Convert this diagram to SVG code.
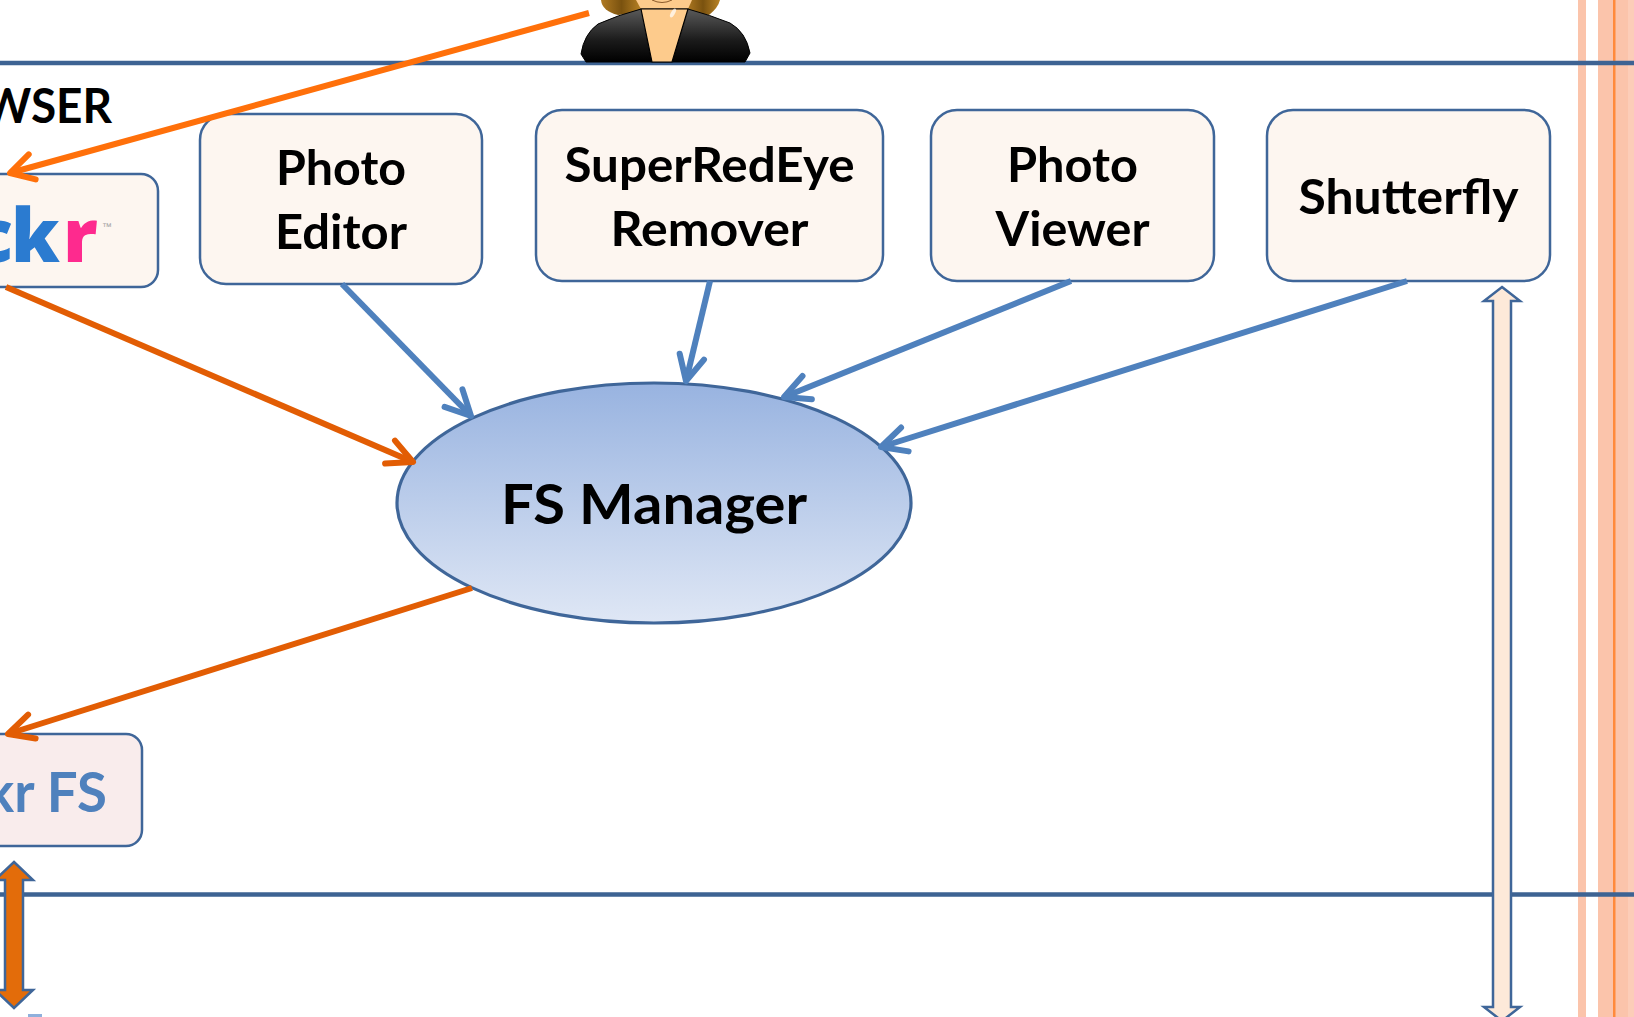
<svg xmlns="http://www.w3.org/2000/svg" width="1634" height="1017" viewBox="0 0 1634 1017">
  <defs>
    <style>
      .box { fill: #fdf6f0; stroke: #3f6699; stroke-width: 2.5; }
      .label { font-family: "Lato", "Liberation Sans", sans-serif; font-weight: 700; font-size: 48px; fill: #000; text-anchor: middle; }
      .tier { stroke: #3d6393; stroke-width: 4.5; fill: none; }
      .link-blue { stroke: #4f81bd; stroke-width: 6; fill: none; marker-end: url(#head-blue); }
      .link-orange { stroke: #e25d04; stroke-width: 6; fill: none; marker-end: url(#head-orange); }
      .link-user { stroke: #ff700a; stroke-width: 6; fill: none; marker-end: url(#head-user); }
      .dbl { stroke: #3f6699; stroke-width: 2.5; stroke-linejoin: miter; }
      .stripe { fill: #fbc4ab; }
    </style>
    <marker id="head-blue" markerUnits="userSpaceOnUse" viewBox="-32 -18 36 36" refX="0" refY="0" markerWidth="36" markerHeight="36" orient="auto" overflow="visible">
      <path d="M-25,-12.5 L0,0 L-25,12.5" fill="none" stroke="#4f81bd" stroke-width="6" stroke-linecap="round" stroke-linejoin="round"/>
    </marker>
    <marker id="head-orange" markerUnits="userSpaceOnUse" viewBox="-32 -18 36 36" refX="0" refY="0" markerWidth="36" markerHeight="36" orient="auto" overflow="visible">
      <path d="M-25,-12.5 L0,0 L-25,12.5" fill="none" stroke="#e25d04" stroke-width="6" stroke-linecap="round" stroke-linejoin="round"/>
    </marker>
    <marker id="head-user" markerUnits="userSpaceOnUse" viewBox="-32 -18 36 36" refX="0" refY="0" markerWidth="36" markerHeight="36" orient="auto" overflow="visible">
      <path d="M-23,-13 L0,0 L-23,13" fill="none" stroke="#ff700a" stroke-width="6" stroke-linecap="round" stroke-linejoin="round"/>
    </marker>
    <linearGradient id="fsm-fill" x1="0" y1="0" x2="0" y2="1">
      <stop offset="0" stop-color="#98b3e0"/>
      <stop offset="1" stop-color="#dfe7f5"/>
    </linearGradient>
    <linearGradient id="jacket" x1="0" y1="0" x2="0" y2="1">
      <stop offset="0" stop-color="#5a5a5a"/>
      <stop offset="0.6" stop-color="#1a1a1a"/>
      <stop offset="1" stop-color="#000"/>
    </linearGradient>
    <linearGradient id="hair" x1="0" y1="0" x2="1" y2="0">
      <stop offset="0" stop-color="#b07a22"/>
      <stop offset="0.5" stop-color="#7a520f"/>
      <stop offset="1" stop-color="#b98325"/>
    </linearGradient>
  </defs>

  <rect width="1634" height="1017" fill="#fff"/>

  <!-- margin stripes on the right -->
  <g id="margin">
    <rect class="stripe" x="1578" y="0" width="8" height="1017"/>
    <rect class="stripe" x="1598" y="0" width="36" height="1017"/>
    <rect x="1613" y="0" width="2.5" height="1017" fill="#ff8a3c"/>
    <rect x="1628" y="0" width="6" height="1017" fill="#fccdb8"/>
  </g>

  <!-- tier separators -->
  <g id="tiers">
    <line class="tier" x1="0" y1="63" x2="1634" y2="63"/>
    <line class="tier" x1="0" y1="894.5" x2="1634" y2="894.5"/>
  </g>

  <!-- user figure -->
  <g id="user">
    <path d="M601,0 Q602,11 618,15 L642,12 L642,0 Z" fill="url(#hair)"/>
    <path d="M686,0 L686,12 L709,15 Q718,8 720,0 Z" fill="url(#hair)"/>
    <path d="M636,0 L692,0 L688,9 L641,9 Z" fill="#fdcb8c"/>
    <path d="M652,0 Q662,5 672,0" fill="none" stroke="#8a5a2a" stroke-width="1"/>
    <path d="M586,62 L581,54 Q584,34 598,24 Q618,15 641,9 L688,9 Q710,15 730,23 Q746,32 750,53 L745,62 Z" fill="url(#jacket)" stroke="#000" stroke-width="1"/>
    <path d="M641,9 L652,62 L672,62 L688,9 Z" fill="#fdcb8c" stroke="#000" stroke-width="1.2"/>
    <ellipse cx="673" cy="13" rx="2" ry="5" transform="rotate(30 673 13)" fill="#fff" opacity="0.7"/>
  </g>

  <!-- browser tier label -->
  <text id="tier-browser" class="label" x="112" y="123" font-size="47" textLength="129" lengthAdjust="spacingAndGlyphs" style="text-anchor:end">WSER</text>

  <!-- nodes -->
  <g id="flickr">
    <rect class="box" x="-30" y="174" width="188" height="113" rx="17"/>
    <text x="0" y="262" font-family="'Open Sans', 'Liberation Sans', sans-serif" font-weight="800" font-size="74">
      <tspan x="-27 11" fill="#2b7bd0">ck</tspan><tspan x="63" fill="#fe2a8e">r</tspan>
    </text>
    <text x="102" y="230" font-family="'Liberation Sans', sans-serif" font-size="10" fill="#a0a0a0">™</text>
  </g>

  <g id="photo-editor">
    <rect class="box" x="200" y="114" width="282" height="170" rx="26"/>
    <text class="label" x="341" y="185" textLength="130" lengthAdjust="spacingAndGlyphs">Photo</text>
    <text class="label" x="341" y="249" textLength="132" lengthAdjust="spacingAndGlyphs">Editor</text>
  </g>

  <g id="superredeye">
    <rect class="box" x="536" y="110" width="347" height="171" rx="26"/>
    <text class="label" x="709.5" y="182" textLength="290" lengthAdjust="spacingAndGlyphs">SuperRedEye</text>
    <text class="label" x="709.5" y="246" textLength="198" lengthAdjust="spacingAndGlyphs">Remover</text>
  </g>

  <g id="photo-viewer">
    <rect class="box" x="931" y="110" width="283" height="171" rx="26"/>
    <text class="label" x="1072.5" y="182" textLength="131" lengthAdjust="spacingAndGlyphs">Photo</text>
    <text class="label" x="1072.5" y="246" textLength="154" lengthAdjust="spacingAndGlyphs">Viewer</text>
  </g>

  <g id="shutterfly">
    <rect class="box" x="1267" y="110" width="283" height="171" rx="26"/>
    <text class="label" x="1408.5" y="214" textLength="220" lengthAdjust="spacingAndGlyphs">Shutterfly</text>
  </g>

  <g id="fs-manager">
    <ellipse cx="654" cy="503" rx="257" ry="120" fill="url(#fsm-fill)" stroke="#3f6699" stroke-width="3.2"/>
    <text class="label" x="654" y="524" style="font-size:56px" textLength="306" lengthAdjust="spacingAndGlyphs">FS Manager</text>
  </g>

  <g id="flickr-fs">
    <rect x="-30" y="734" width="172" height="112" rx="16" fill="#f9ecec" stroke="#3f6699" stroke-width="2.5"/>
    <text class="label" x="107" y="812" style="font-size:56px;text-anchor:end;fill:#4f81bd" textLength="122" lengthAdjust="spacingAndGlyphs">kr FS</text>
  </g>

  <!-- connectors -->
  <g id="connectors">
    <line class="link-user" x1="589" y1="13" x2="10" y2="173"/>
    <line class="link-orange" x1="6" y1="287" x2="413" y2="462"/>
    <line class="link-blue" x1="342" y1="284" x2="471" y2="416"/>
    <line class="link-blue" x1="710" y1="281" x2="686" y2="381"/>
    <line class="link-blue" x1="1071" y1="281" x2="784" y2="397"/>
    <line class="link-blue" x1="1407" y1="281" x2="881" y2="447"/>
    <line class="link-orange" x1="472" y1="588" x2="8" y2="734"/>
    <!-- two-way transfer arrows across the lower tier -->
    <polygon class="dbl" fill="#e36c0a" points="14,862 33,880 23,880 23,990 33,990 14,1008 -5,990 5,990 5,880 -5,880"/>
    <polygon class="dbl" fill="#fde9d9" points="1502,287 1520,301 1511,301 1511,1007 1520,1007 1502,1021 1484,1007 1493,1007 1493,301 1484,301"/>
  </g>

  <rect x="28" y="1014" width="14" height="3" fill="#8fb0dc"/>
</svg>
